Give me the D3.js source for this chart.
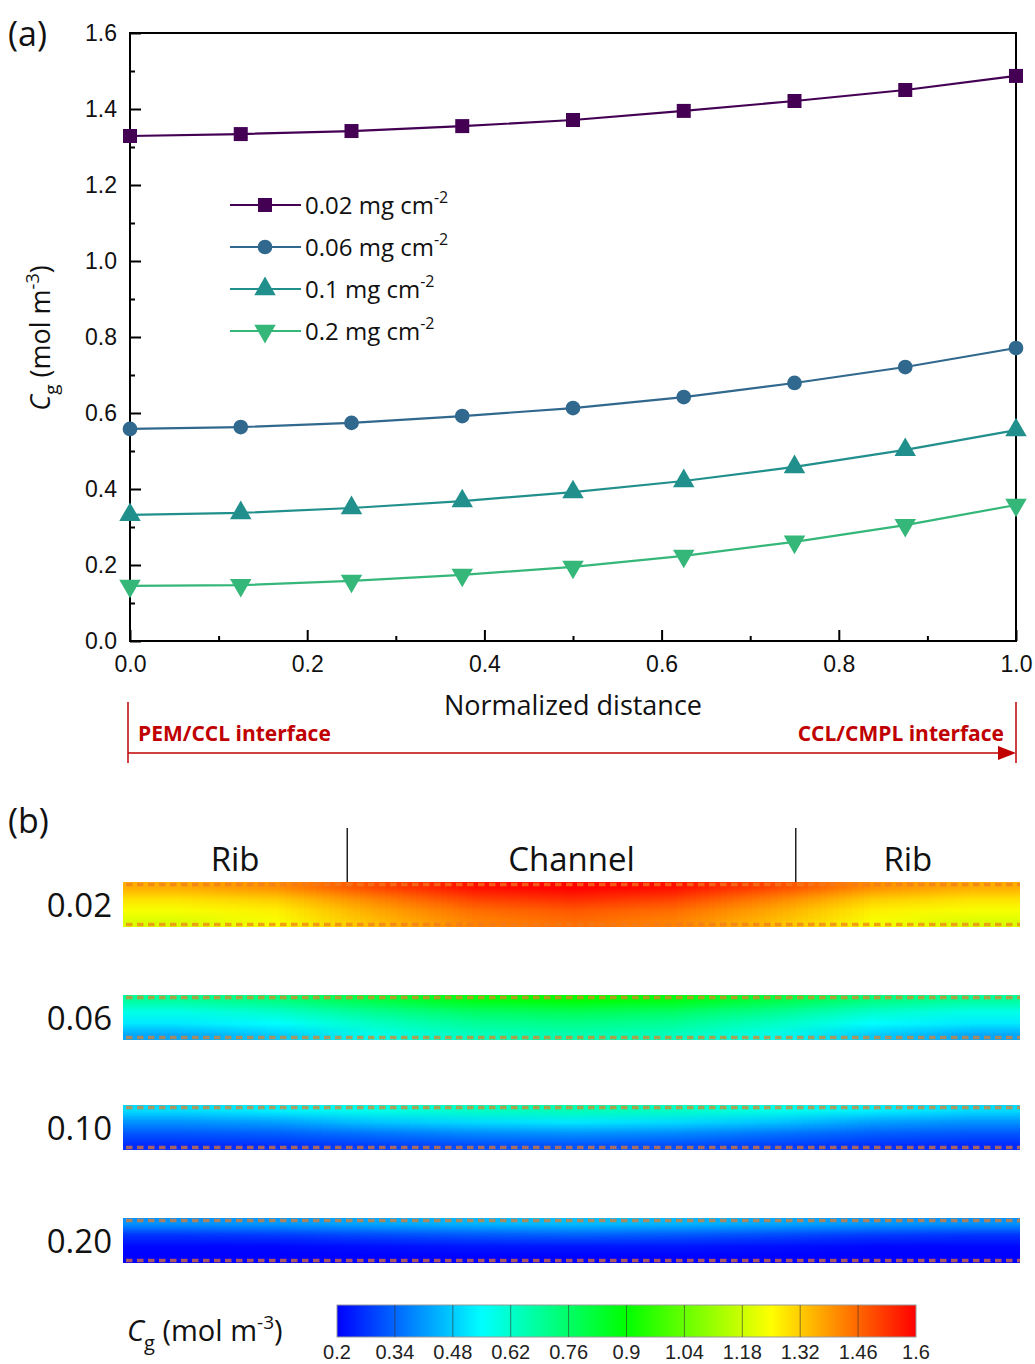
<!DOCTYPE html>
<html>
<head>
<meta charset="utf-8">
<script src="https://cdn.jsdelivr.net/npm/d3@7"></script>
<style>
  body { margin: 0; background: #fff; }
  svg { display: block; }
  .tick text { font-family: "Liberation Sans", Arial, sans-serif; }
</style>
</head>
<body>
<svg id="chart" width="1035" height="1364"></svg>
<script>
// ---- panel (a) data ----
let distance = [0, 0.125, 0.25, 0.375, 0.5, 0.625, 0.75, 0.875, 1.0];
let loadings = ["0.02", "0.06", "0.1", "0.2"];
let cg002 = [1.329, 1.334, 1.342, 1.355, 1.371, 1.395, 1.421, 1.450, 1.487];
let cg006 = [0.558, 0.563, 0.574, 0.592, 0.613, 0.642, 0.679, 0.721, 0.771];
let cg010 = [0.332, 0.337, 0.350, 0.368, 0.392, 0.421, 0.458, 0.503, 0.555];
let cg020 = [0.145, 0.147, 0.158, 0.174, 0.195, 0.224, 0.261, 0.305, 0.358];
let seriesColors = ["#440154", "#31688e", "#21908c", "#35b779"];
let seriesSymbols = ["square", "circle", "triangle", "triangleDown"];
let yMajor = [0, 0.2, 0.4, 0.6, 0.8, 1.0, 1.2, 1.4, 1.6];
let yMinor = [0.1, 0.3, 0.5, 0.7, 0.9, 1.1, 1.3, 1.5];
let xMajor = [0, 0.2, 0.4, 0.6, 0.8, 1.0];
let xMinor = [0.1, 0.3, 0.5, 0.7, 0.9];

// ---- panel (b) data: C_g fields, rows top->bottom, columns left->right ----
let stripLabels = ["0.02", "0.06", "0.10", "0.20"];
let field002 = [
  [1.36, 1.40, 1.50, 1.58, 1.60, 1.58, 1.50, 1.40, 1.36],
  [1.29, 1.32, 1.42, 1.51, 1.54, 1.51, 1.42, 1.32, 1.29],
  [1.24, 1.27, 1.37, 1.45, 1.48, 1.45, 1.37, 1.27, 1.24],
  [1.20, 1.24, 1.34, 1.42, 1.45, 1.42, 1.34, 1.24, 1.20]
];
let field006 = [
  [0.68, 0.72, 0.80, 0.87, 0.89, 0.87, 0.80, 0.72, 0.68],
  [0.58, 0.62, 0.70, 0.76, 0.78, 0.76, 0.70, 0.62, 0.58],
  [0.52, 0.55, 0.63, 0.69, 0.71, 0.69, 0.63, 0.55, 0.52],
  [0.43, 0.48, 0.58, 0.64, 0.66, 0.64, 0.58, 0.48, 0.43]
];
let field010 = [
  [0.50, 0.53, 0.58, 0.63, 0.65, 0.63, 0.58, 0.53, 0.50],
  [0.40, 0.42, 0.47, 0.50, 0.52, 0.50, 0.47, 0.42, 0.40],
  [0.32, 0.33, 0.36, 0.39, 0.40, 0.39, 0.36, 0.33, 0.32],
  [0.26, 0.27, 0.29, 0.31, 0.32, 0.31, 0.29, 0.27, 0.26]
];
let field020 = [
  [0.40, 0.41, 0.43, 0.45, 0.46, 0.45, 0.43, 0.41, 0.40],
  [0.27, 0.28, 0.30, 0.32, 0.33, 0.32, 0.30, 0.28, 0.27],
  [0.21, 0.21, 0.22, 0.23, 0.23, 0.23, 0.22, 0.21, 0.21],
  [0.20, 0.20, 0.20, 0.20, 0.20, 0.20, 0.20, 0.20, 0.20]
];
let regionNames = ["Rib", "Channel", "Rib"];
let regionBounds = [0, 0.25, 0.75, 1];

// colour map (jet-like) and colour bar ticks
let cmapValues = [0.2, 0.55, 0.9, 1.25, 1.6];
let cmapColors = ["#0000ff", "#00ffff", "#00ff00", "#ffff00", "#ff0000"];
let cbarTicks = [0.2, 0.34, 0.48, 0.62, 0.76, 0.9, 1.04, 1.18, 1.32, 1.46, 1.6];

let svg = d3.select("#chart");
let textFont = "'Open Sans', sans-serif";
let red = "#c00000";

// ================= panel (a) =================
let x = d3.scaleLinear().domain([0, 1]).range([130, 1016]);
let y = d3.scaleLinear().domain([0, 1.6]).range([641, 33]);

let drawAxes = () => {
  let xAx = d3.axisBottom(x).tickValues(xMajor).tickSize(-11).tickPadding(15)
              .tickFormat(d3.format(".1f"));
  let xAxMin = d3.axisBottom(x).tickValues(xMinor).tickSize(-5).tickFormat("");
  let yAx = d3.axisLeft(y).tickValues(yMajor).tickSize(-11).tickPadding(13)
              .tickFormat(d3.format(".1f"));
  let yAxMin = d3.axisLeft(y).tickValues(yMinor).tickSize(-5).tickFormat("");

  [[xAx, "translate(0,641)"], [xAxMin, "translate(0,641)"],
   [yAx, "translate(130,0)"], [yAxMin, "translate(130,0)"]].forEach(([ax, tr]) => {
    let g = svg.append("g").attr("transform", tr).call(ax);
    g.select(".domain").remove();
    g.selectAll("line").attr("stroke", "#000").attr("stroke-width", 2);
    g.selectAll("text").attr("font-size", 23).attr("fill", "#111");
  });

  svg.append("rect")
     .attr("x", x(0)).attr("y", y(1.6))
     .attr("width", x(1) - x(0)).attr("height", y(0) - y(1.6))
     .attr("fill", "none").attr("stroke", "#000").attr("stroke-width", 2);
};

let symbolPath = (name) => {
  if (name === "square") return d3.symbol(d3.symbolSquare, 196)();
  if (name === "circle") return d3.symbol(d3.symbolCircle, 170)();
  return d3.symbol(d3.symbolTriangle, 200)();
};

let drawSeries = () => {
  let all = [cg002, cg006, cg010, cg020];
  let line = d3.line().x((d, i) => x(distance[i])).y(d => y(d));
  all.forEach((vals, k) => {
    svg.append("path").datum(vals)
       .attr("d", line).attr("fill", "none")
       .attr("stroke", seriesColors[k]).attr("stroke-width", 2.2);
    svg.append("g").selectAll("path")
       .data(vals).enter().append("path")
       .attr("d", symbolPath(seriesSymbols[k]))
       .attr("transform", (d, i) => "translate(" + x(distance[i]) + "," + y(d) + ")" +
             (seriesSymbols[k] === "triangleDown" ? " rotate(180)" : ""))
       .attr("fill", seriesColors[k]);
  });
};

let drawLegend = () => {
  let lg = svg.append("g");
  loadings.forEach((name, k) => {
    let yy = 205 + k * 42;
    lg.append("line").attr("x1", 230).attr("x2", 301).attr("y1", yy).attr("y2", yy)
      .attr("stroke", seriesColors[k]).attr("stroke-width", 2.2);
    lg.append("path").attr("d", symbolPath(seriesSymbols[k]))
      .attr("transform", "translate(265," + yy + ")" +
            (seriesSymbols[k] === "triangleDown" ? " rotate(180)" : ""))
      .attr("fill", seriesColors[k]);
    let t = lg.append("text").attr("x", 305).attr("y", yy + 9)
      .attr("font-family", textFont).attr("font-size", 24).attr("fill", "#111");
    t.append("tspan").text(name + " mg cm");
    t.append("tspan").attr("dy", -11).attr("font-size", 16).text("-2");
  });
};

let drawLabels = () => {
  svg.append("text").attr("x", 8).attr("y", 46)
     .attr("font-family", textFont).attr("font-size", 34).attr("fill", "#111").text("(a)");

  svg.append("text").attr("x", 573).attr("y", 715).attr("text-anchor", "middle")
     .attr("font-family", textFont).attr("font-size", 27).attr("fill", "#111")
     .text("Normalized distance");

  let yl = svg.append("text").attr("transform", "translate(50,338) rotate(-90)")
     .attr("text-anchor", "middle")
     .attr("font-family", textFont).attr("font-size", 27).attr("fill", "#111");
  yl.append("tspan").attr("font-style", "italic").text("C");
  yl.append("tspan").attr("dy", 8).attr("font-size", 19).text("g");
  yl.append("tspan").attr("dy", -8).text(" (mol m");
  yl.append("tspan").attr("dy", -11).attr("font-size", 18).text("-3");
  yl.append("tspan").attr("dy", 11).text(")");
};

let drawInterfaceArrow = () => {
  let g = svg.append("g");
  [x(0) - 2, x(1)].forEach(xx => {
    g.append("line").attr("x1", xx).attr("x2", xx).attr("y1", 702).attr("y2", 763)
     .attr("stroke", red).attr("stroke-width", 1.5);
  });
  g.append("line").attr("x1", x(0) - 2).attr("x2", x(1) - 16).attr("y1", 753).attr("y2", 753)
   .attr("stroke", red).attr("stroke-width", 1.5);
  g.append("path")
   .attr("d", "M" + x(1) + ",753 L" + (x(1) - 18) + ",746 L" + (x(1) - 18) + ",760 Z")
   .attr("fill", red);
  g.append("text").attr("x", x(0) + 8).attr("y", 741)
   .attr("font-family", textFont).attr("font-weight", "bold").attr("font-size", 21)
   .attr("fill", red).text("PEM/CCL interface");
  g.append("text").attr("x", x(1) - 12).attr("y", 741).attr("text-anchor", "end")
   .attr("font-family", textFont).attr("font-weight", "bold").attr("font-size", 21)
   .attr("fill", red).text("CCL/CMPL interface");
};

// ================= panel (b) =================
let color = d3.scaleLinear().domain(cmapValues).range(cmapColors).clamp(true);
let sx = d3.scaleLinear().domain([0, 1]).range([123, 1020]);
let stripTops = [882, 995, 1105, 1218];
let stripH = 45;

let fieldImage = (field) => {
  let rows = field.length, cols = field[0].length;
  let cv = document.createElement("canvas");
  cv.width = cols; cv.height = rows;
  let ctx = cv.getContext("2d");
  field.forEach((row, r) => row.forEach((v, c) => {
    ctx.fillStyle = color(v);
    ctx.fillRect(c, r, 1, 1);
  }));
  return cv.toDataURL();
};

let drawStrips = () => {
  svg.append("text").attr("x", 8).attr("y", 833)
     .attr("font-family", textFont).attr("font-size", 34).attr("fill", "#111").text("(b)");

  regionNames.forEach((name, i) => {
    svg.append("text").attr("x", sx((regionBounds[i] + regionBounds[i + 1]) / 2))
       .attr("y", 871).attr("text-anchor", "middle")
       .attr("font-family", textFont).attr("font-size", 33).attr("fill", "#111").text(name);
  });
  regionBounds.slice(1, -1).forEach(b => {
    svg.append("line").attr("x1", sx(b)).attr("x2", sx(b)).attr("y1", 828).attr("y2", 882)
       .attr("stroke", "#222").attr("stroke-width", 1.5);
  });

  let fields = [field002, field006, field010, field020];
  fields.forEach((f, k) => {
    let top = stripTops[k];
    svg.append("image")
       .attr("href", fieldImage(f))
       .attr("x", sx(0)).attr("y", top)
       .attr("width", sx(1) - sx(0)).attr("height", stripH)
       .attr("preserveAspectRatio", "none");
    [top + 2.5, top + stripH - 2.5].forEach(yy => {
      svg.append("line").attr("x1", sx(0) + 3).attr("x2", sx(1))
         .attr("y1", yy).attr("y2", yy)
         .attr("stroke", "#f07a20").attr("stroke-opacity", 0.7)
         .attr("stroke-width", 3.5).attr("stroke-dasharray", "6.5,4.5");
    });
    svg.append("text").attr("x", 112).attr("y", top + stripH / 2 + 12)
       .attr("text-anchor", "end")
       .attr("font-family", textFont).attr("font-size", 33).attr("fill", "#111")
       .text(stripLabels[k]);
  });
};

let drawColorbar = () => {
  let cx = d3.scaleLinear().domain([0.2, 1.6]).range([337, 916]);
  let grad = svg.append("defs").append("linearGradient").attr("id", "cbar")
    .attr("x1", "0%").attr("x2", "100%");
  cmapValues.forEach((v, i) => {
    grad.append("stop").attr("offset", ((v - 0.2) / 1.4 * 100) + "%")
        .attr("stop-color", cmapColors[i]);
  });
  svg.append("rect").attr("x", cx(0.2)).attr("y", 1305)
     .attr("width", cx(1.6) - cx(0.2)).attr("height", 32)
     .attr("fill", "url(#cbar)").attr("stroke", "#999").attr("stroke-width", 1);
  cbarTicks.slice(1, -1).forEach(v => {
    svg.append("line").attr("x1", cx(v)).attr("x2", cx(v)).attr("y1", 1305).attr("y2", 1337)
       .attr("stroke", "#333").attr("stroke-opacity", 0.6).attr("stroke-width", 1);
  });
  cbarTicks.forEach(v => {
    svg.append("text").attr("x", cx(v)).attr("y", 1359).attr("text-anchor", "middle")
       .attr("font-family", "'Liberation Sans', Arial, sans-serif").attr("font-size", 20)
       .attr("fill", "#222").text(String(v));
  });

  let t = svg.append("text").attr("x", 127).attr("y", 1341)
     .attr("font-family", textFont).attr("font-size", 29).attr("fill", "#111");
  t.append("tspan").attr("font-style", "italic").text("C");
  t.append("tspan").attr("dy", 9).attr("font-size", 20).text("g");
  t.append("tspan").attr("dy", -9).text(" (mol m");
  t.append("tspan").attr("dy", -12).attr("font-size", 19).text("-3");
  t.append("tspan").attr("dy", 12).text(")");
};

drawAxes();
drawSeries();
drawLegend();
drawLabels();
drawInterfaceArrow();
drawStrips();
drawColorbar();
</script>
</body>
</html>
